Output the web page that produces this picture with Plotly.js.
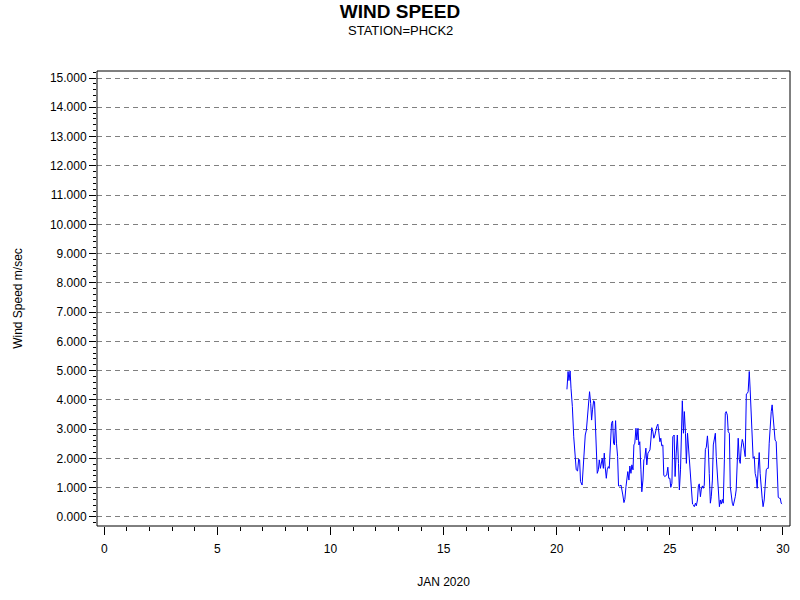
<!DOCTYPE html>
<html>
<head>
<meta charset="utf-8">
<script src="https://cdn.plot.ly/plotly-3.0.1.min.js"></script>
<style>html,body{margin:0;padding:0;background:#fff;}#chart{width:800px;height:600px;}</style>
</head>
<body>
<div id="chart"></div>
<script>
// Day of January 2020 (fractional) and wind speed (m/sec)
const days = [
20.45,20.50,20.54,20.59,20.63,20.69,20.75,20.81,20.86,20.92,20.97,21.01,21.05,21.12,21.16,21.22,21.26,21.31,21.35,21.39,
21.45,21.50,21.54,21.58,21.63,21.67,21.72,21.75,21.79,21.84,21.88,21.93,21.97,22.01,22.06,22.10,22.14,22.19,22.23,22.28,
22.32,22.36,22.42,22.47,22.51,22.55,22.60,22.64,22.69,22.73,22.79,22.84,22.88,22.92,22.97,23.01,23.06,23.10,23.14,23.19,
23.23,23.28,23.32,23.37,23.41,23.45,23.50,23.54,23.59,23.63,23.67,23.72,23.76,23.81,23.85,23.89,23.94,23.98,24.03,24.07,
24.12,24.16,24.20,24.25,24.29,24.34,24.38,24.42,24.47,24.51,24.56,24.60,24.64,24.69,24.73,24.77,24.82,24.86,24.91,24.95,
25.00,25.04,25.09,25.13,25.19,25.23,25.28,25.33,25.38,25.42,25.47,25.51,25.55,25.60,25.64,25.69,25.73,25.78,25.82,25.86,
25.91,25.95,26.00,26.04,26.08,26.13,26.17,26.22,26.26,26.30,26.35,26.39,26.44,26.48,26.52,26.57,26.61,26.66,26.70,26.74,
26.79,26.83,26.88,26.92,26.97,27.01,27.05,27.10,27.14,27.19,27.23,27.27,27.32,27.36,27.41,27.45,27.49,27.54,27.58,27.63,
27.67,27.71,27.76,27.80,27.85,27.89,27.93,27.98,28.02,28.07,28.11,28.15,28.20,28.24,28.29,28.33,28.38,28.42,28.46,28.51,
28.55,28.60,28.64,28.68,28.73,28.77,28.82,28.86,28.90,28.95,28.99,29.04,29.08,29.12,29.17,29.21,29.26,29.30,29.35,29.39,
29.43,29.48,29.52,29.57,29.61,29.65,29.70,29.74,29.79,29.83,29.88,29.92,29.96
];
const windSpeed = [
4.36,4.97,4.66,4.99,4.40,3.77,2.74,1.95,1.61,1.57,1.98,1.95,1.21,1.09,1.61,2.40,2.80,2.97,3.43,3.77,
4.28,3.88,3.31,3.66,3.97,3.94,3.09,2.06,1.49,1.61,1.95,1.66,1.95,2.00,1.66,2.18,1.72,1.32,1.61,1.72,
1.66,2.29,3.20,3.28,2.52,2.46,3.29,2.52,2.06,1.06,1.06,1.09,0.81,0.75,0.49,0.60,1.04,1.43,1.55,1.26,
1.74,1.49,1.78,1.61,2.46,2.52,3.03,2.63,3.03,2.46,2.57,1.61,0.86,1.26,1.95,2.00,2.35,1.78,2.18,2.23,
2.29,2.63,3.05,2.91,2.69,2.80,2.97,3.09,3.17,2.91,2.57,2.69,2.43,2.46,1.43,1.38,1.43,1.43,1.70,1.32,
1.32,1.01,1.15,2.74,2.80,1.38,2.18,2.80,1.83,0.92,1.61,3.09,3.97,2.86,3.60,2.86,1.83,2.86,2.35,1.95,
1.49,1.04,0.44,0.41,0.35,0.47,0.38,0.58,1.06,1.13,0.69,0.95,1.06,0.98,1.09,2.31,2.38,2.77,2.35,1.49,
0.47,0.69,1.26,2.46,2.63,2.86,2.06,1.49,0.98,0.35,0.58,0.44,0.60,0.47,1.95,3.54,3.60,3.48,2.91,2.86,
1.04,0.64,0.47,0.38,0.52,0.69,0.92,1.95,2.69,1.95,1.83,2.35,2.65,2.54,2.18,2.06,4.20,4.22,4.28,4.97,
4.34,3.37,2.97,2.00,2.06,1.49,1.32,0.98,1.61,2.20,1.49,0.81,0.64,0.35,0.58,1.04,1.61,1.66,1.66,2.52,
3.09,3.60,3.83,3.31,2.97,2.63,2.57,1.61,0.67,0.64,0.64,0.47,0.44
];
const xTickVals = [0,5,10,15,20,25,30];
const yTickVals = [0,1,2,3,4,5,6,7,8,9,10,11,12,13,14,15];

const trace = {
  x: days, y: windSpeed, type: 'scatter', mode: 'lines',
  line: {color: '#0000ff', width: 1}, hoverinfo: 'skip', showlegend: false
};

const font = {family: 'Arial, "Liberation Sans", sans-serif', size: 12, color: '#000'};

const layout = {
  width: 800, height: 600,
  paper_bgcolor: '#fff', plot_bgcolor: '#fff',
  margin: {l: 97, r: 10, t: 71, b: 74},
  font: font,
  showlegend: false,
  title: {
    text: '<b>WIND SPEED</b>',
    font: {family: 'Arial, "Liberation Sans", sans-serif', size: 19, color: '#000'},
    x: 0.5, xref: 'container', xanchor: 'center',
    y: 1 - 11/600, yref: 'container', yanchor: 'middle'
  },
  annotations: [{
    text: 'STATION=PHCK2', showarrow: false,
    xref: 'paper', x: (400 - 97)/693, xanchor: 'center',
    yref: 'paper', y: 1 + (71 - 30)/455, yanchor: 'middle',
    font: {family: 'Arial, "Liberation Sans", sans-serif', size: 13, color: '#000'}
  }],
  xaxis: {
    range: [-0.323, 30.31],
    tickmode: 'array', tickvals: xTickVals, ticktext: xTickVals.map(String),
    ticks: 'outside', ticklen: 8, tickwidth: 1, tickcolor: '#000',
    ticklabelstandoff: 4,
    minor: {dtick: 1, ticks: 'outside', ticklen: 4, tickwidth: 1, tickcolor: '#000', showgrid: false},
    showgrid: false, zeroline: false, showline: false,
    tickfont: font,
    title: {text: 'JAN 2020', font: font, standoff: 22},
    automargin: false
  },
  yaxis: {
    range: [-0.31, 15.24],
    tickmode: 'array', tickvals: yTickVals, ticktext: yTickVals.map(v => v.toFixed(3)),
    ticks: 'outside', ticklen: 7, tickwidth: 1, tickcolor: '#000',
    minor: {dtick: 0.2, ticks: 'outside', ticklen: 3, tickwidth: 1, tickcolor: '#000', showgrid: false},
    showgrid: true, gridcolor: '#808080', griddash: '5px,4px', gridwidth: 1,
    zeroline: false, showline: false,
    tickfont: font,
    title: {text: 'Wind Speed m/sec', font: font, standoff: 24},
    automargin: false
  },
  shapes: [{
    type: 'rect', xref: 'paper', yref: 'paper', x0: 0, x1: 1, y0: 0, y1: 1,
    line: {color: '#000', width: 1}, fillcolor: 'rgba(0,0,0,0)', layer: 'above'
  }]
};

Plotly.newPlot('chart', [trace], layout, {staticPlot: true, displayModeBar: false});
</script>
</body>
</html>
